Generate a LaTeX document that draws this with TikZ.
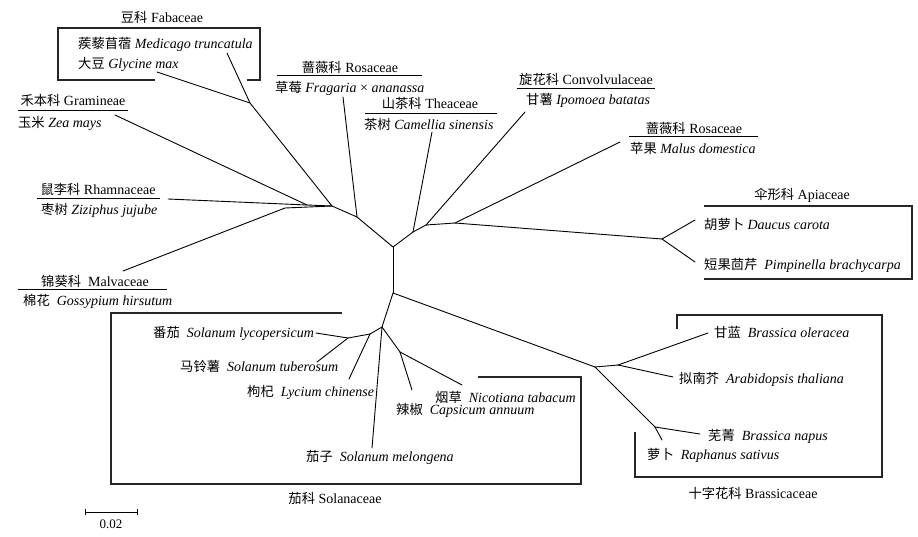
\documentclass[tikz,border=0pt]{standalone}
\usepackage{fontspec}
\setmainfont{Liberation Serif}
\newfontfamily\cjk[Scale=0.95]{Noto Sans CJK SC}
\newcommand{\zh}[1]{{\cjk #1}}
\begin{document}
\begin{tikzpicture}[x=1pt,y=-1pt,
  br/.style={line width=0.9pt, line cap=round},
  bx/.style={line width=1.1pt, draw=black!85},
  ul/.style={line width=1pt},
  sp/.style={inner sep=0, anchor=base west, font=\fontsize{14}{16}\selectfont},
  fam/.style={inner sep=0, anchor=base, font=\fontsize{14}{16}\selectfont}]
\useasboundingbox (0,0) rectangle (918,536);

% internal nodes
\coordinate (A) at (393,247);
\coordinate (B) at (393,293);
\coordinate (C) at (357,217);
\coordinate (D) at (413,232);
\coordinate (E) at (332,206);
\coordinate (I) at (250,103);
\coordinate (G) at (307,205);
\coordinate (H) at (285,208);
\coordinate (J) at (426,225);
\coordinate (K) at (455,223);
\coordinate (L) at (662,239);
\coordinate (M) at (595,367);
\coordinate (N) at (618,365);
\coordinate (O) at (655,427);
\coordinate (P) at (382,327);
\coordinate (Q) at (370,334);
\coordinate (R) at (348,338);
\coordinate (S) at (400,352);
% tips
\coordinate (tMed) at (227,53);
\coordinate (tGly) at (157,72);
\coordinate (tZea) at (115,115);
\coordinate (tZiz) at (168,199);
\coordinate (tGos) at (123,271);
\coordinate (tFra) at (343,97);
\coordinate (tCam) at (432,132);
\coordinate (tIpo) at (525,112);
\coordinate (tMal) at (620,142);
\coordinate (tDau) at (695,220);
\coordinate (tPim) at (695,262);
\coordinate (tBol) at (708,333);
\coordinate (tAra) at (673,377);
\coordinate (tNap) at (700,434);
\coordinate (tRap) at (662,440);
\coordinate (tLyc) at (316,333);
\coordinate (tTub) at (317,362);
\coordinate (tLch) at (349,379);
\coordinate (tMel) at (372,448);
\coordinate (tCap) at (412,390);
\coordinate (tNic) at (462,385);

% branches
\draw[br] (A) -- (B);
\draw[br] (A) -- (C);
\draw[br] (A) -- (D);
\draw[br] (C) -- (tFra);
\draw[br] (C) -- (E);
\draw[br] (E) -- (I);
\draw[br] (I) -- (tMed);
\draw[br] (I) -- (tGly);
\draw[br] (E) -- (G);
\draw[br] (G) -- (tZea);
\draw[br] (G) -- (tZiz);
\draw[br] (E) -- (H);
\draw[br] (H) -- (tGos);
\draw[br] (D) -- (tCam);
\draw[br] (D) -- (J);
\draw[br] (J) -- (tIpo);
\draw[br] (J) -- (K);
\draw[br] (K) -- (tMal);
\draw[br] (K) -- (L);
\draw[br] (L) -- (tDau);
\draw[br] (L) -- (tPim);
\draw[br] (B) -- (M);
\draw[br] (M) -- (N);
\draw[br] (N) -- (tBol);
\draw[br] (N) -- (tAra);
\draw[br] (M) -- (O);
\draw[br] (O) -- (tNap);
\draw[br] (O) -- (tRap);
\draw[br] (B) -- (P);
\draw[br] (P) -- (Q);
\draw[br] (Q) -- (R);
\draw[br] (R) -- (tLyc);
\draw[br] (R) -- (tTub);
\draw[br] (Q) -- (tLch);
\draw[br] (P) -- (tMel);
\draw[br] (P) -- (S);
\draw[br] (S) -- (tCap);
\draw[br] (S) -- (tNic);

% Fabaceae
\node[fam] (fFab) at (162,22) {\zh{豆科} Fabaceae};
\draw[bx] (155,80) -- (58,80) -- (58,28) -- (260,28) -- (260,80) -- (247,80);
\node[sp] (sMed) at (78,48) {\zh{蒺藜苜蓿} \textit{Medicago truncatula}};
\node[sp] (sGly) at (78,68) {\zh{大豆} \textit{Glycine max}};

% Gramineae
\node[fam] (fGra) at (73,105) {\zh{禾本科} Gramineae};
\draw[ul] (18,110) -- (128,110);
\node[sp] (sZea) at (18,127) {\zh{玉米} \textit{Zea mays}};

% Rosaceae (strawberry)
\node[fam] (fRos1) at (350,72) {\zh{蔷薇科} Rosaceae};
\draw[ul] (277,75) -- (422,75);
\node[sp] (sFra) at (275,92) {\zh{草莓} \textit{Fragaria} × \textit{ananassa}};

% Theaceae
\node[fam] (fThe) at (430,108) {\zh{山茶科} Theaceae};
\draw[ul] (365,113) -- (497,113);
\node[sp] (sCam) at (364,129) {\zh{茶树} \textit{Camellia sinensis}};

% Convolvulaceae
\node[fam] (fCon) at (586,84) {\zh{旋花科} Convolvulaceae};
\draw[ul] (517,88) -- (655,88);
\node[sp] (sIpo) at (526,104) {\zh{甘薯} \textit{Ipomoea batatas}};

% Rosaceae (apple)
\node[fam] (fRos2) at (694,133) {\zh{蔷薇科} Rosaceae};
\draw[ul] (629,136) -- (758,136);
\node[sp] (sMal) at (630,153) {\zh{苹果} \textit{Malus domestica}};

% Apiaceae
\node[fam] (fApi) at (802,199) {\zh{伞形科} Apiaceae};
\draw[bx] (704,206) -- (912,206) -- (912,279) -- (704,279);
\node[sp] (sDau) at (704,229) {\zh{胡萝卜} \textit{Daucus carota}};
\node[sp] (sPim) at (704,269) {\zh{短果茴芹}\ \ \textit{Pimpinella brachycarpa}};

% Rhamnaceae
\node[fam] (fRha) at (98,194) {\zh{鼠李科} Rhamnaceae};
\draw[ul] (37,198) -- (160,198);
\node[sp] (sZiz) at (41,214) {\zh{枣树} \textit{Ziziphus jujube}};

% Malvaceae
\node[fam] (fMal) at (95,286) {\zh{锦葵科}\ \ Malvaceae};
\draw[ul] (18,289) -- (167,289);
\node[sp] (sGos) at (23,305) {\zh{棉花}\ \ \textit{Gossypium hirsutum}};

% Solanaceae
\draw[bx] (342,313) -- (111,313) -- (111,484) -- (581,484) -- (581,377) -- (478,377);
\node[fam] (fSol) at (335,503) {\zh{茄科} Solanaceae};
\node[sp] (sLyc) at (153,337) {\zh{番茄}\ \ \textit{Solanum lycopersicum}};
\node[sp] (sTub) at (180,371) {\zh{马铃薯}\ \ \textit{Solanum tuberosum}};
\node[sp] (sLch) at (247,396) {\zh{枸杞}\ \ \textit{Lycium chinense}};
\node[sp] (sNic) at (435,402) {\zh{烟草}\ \ \textit{Nicotiana tabacum}};
\node[sp] (sCap) at (396,414) {\zh{辣椒}\ \ \textit{Capsicum annuum}};
\node[sp] (sMel) at (306,461) {\zh{茄子}\ \ \textit{Solanum melongena}};

% Brassicaceae
\draw[bx] (677,329) -- (677,315) -- (882,315) -- (882,477) -- (635,477) -- (635,432);
\node[fam] (fBra) at (753,498) {\zh{十字花科} Brassicaceae};
\node[sp] (sBol) at (714,337) {\zh{甘蓝}\ \ \textit{Brassica oleracea}};
\node[sp] (sAra) at (679,383) {\zh{拟南芥}\ \ \textit{Arabidopsis thaliana}};
\node[sp] (sNap) at (708,440) {\zh{芜菁}\ \ \textit{Brassica napus}};
\node[sp] (sRap) at (647,459) {\zh{萝卜}\ \ \textit{Raphanus sativus}};

% scale bar
\coordinate (sb1) at (85,512);
\coordinate (sb2) at (137,512);
\draw[line width=0.9pt] (sb1) -- (sb2);
\draw[line width=0.9pt] ([yshift=-3pt]sb1) -- ([yshift=3pt]sb1);
\draw[line width=0.9pt] ([yshift=-3pt]sb2) -- ([yshift=3pt]sb2);
\node[fam, font=\fontsize{13}{15}\selectfont] (sbl) at (111,528) {0.02};
\end{tikzpicture}
\end{document}
